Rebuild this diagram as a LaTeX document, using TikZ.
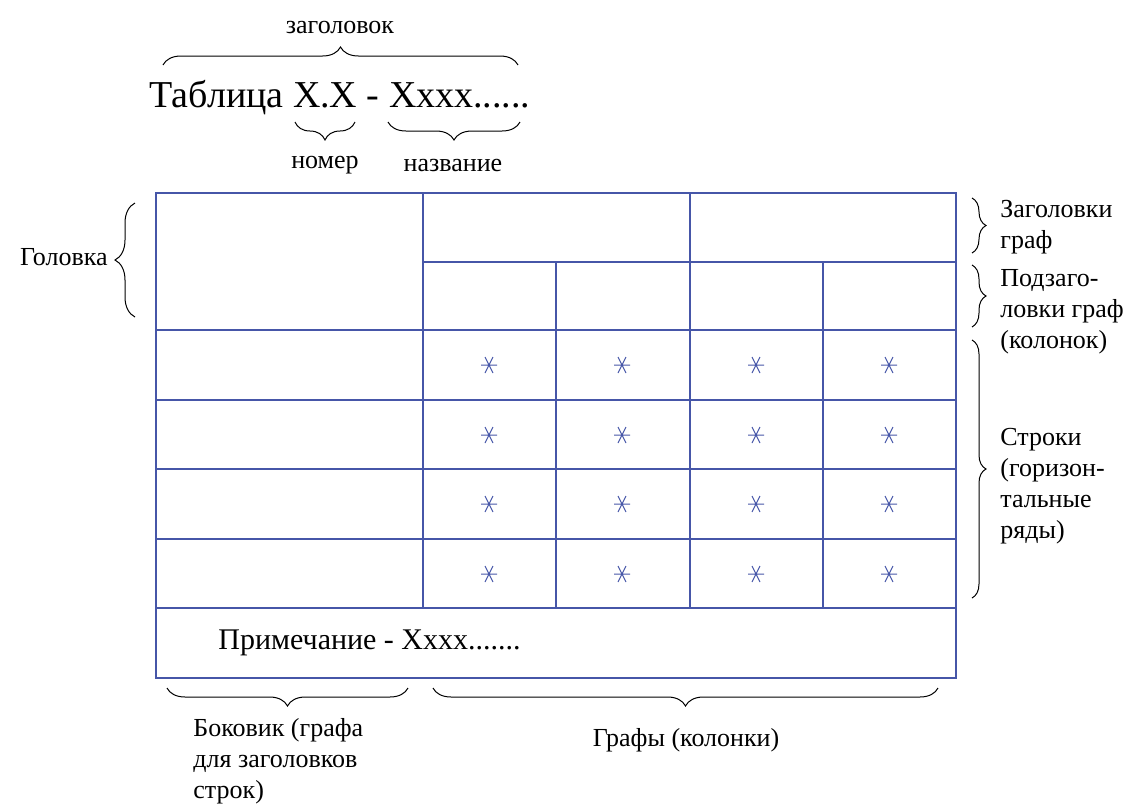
\documentclass[tikz,border=0pt]{standalone}
\usepackage{fontspec}
\setmainfont{Liberation Serif}[Ligatures=TeX]
\newfontfamily\tms{Liberation Serif}
\usetikzlibrary{decorations.pathreplacing}
\definecolor{tblblue}{RGB}{70,86,168}

\begin{document}
\begin{tikzpicture}[x=0.5pt,y=-0.5pt,
  setka/.style={draw=tblblue, line width=0.65pt},
  zvezdochka/.style={draw=tblblue, line width=0.5pt},
  skobka/.style={decorate, decoration={brace, amplitude=#1}, line width=0.5pt},
  skobka/.default=9pt,
  nadp/.style={font=\tms\fontsize{13}{15.5}\selectfont, inner sep=0pt, align=left}]
  \path (0,0) rectangle (1132,804);

  % nazvanie tablicy
  \node[nadp] (zagolovok) at (340,27) {заголовок};
  \draw[skobka] (163,65) -- (518,65);
  \node[font=\tms\fontsize{19}{22}\selectfont, anchor=base, inner sep=0pt] (tablica) at (340,107) {Таблица X.X - Xxxx......};
  \draw[skobka] (355,122) -- (295,122);
  \draw[skobka] (520,122) -- (388,122);
  \node[nadp] (nomer) at (325,165) {номер};
  \node[nadp] (nazvanie) at (453,165) {название};

  % setka
  \draw[setka] (156,193) rectangle (956,678);
  \draw[setka] (423,262) -- (956,262);
  \foreach \y in {330,400,469,539,608}
    \draw[setka] (156,\y) -- (956,\y);
  \foreach \x in {423,690}
    \draw[setka] (\x,193) -- (\x,608);
  \foreach \x in {556,823}
    \draw[setka] (\x,262) -- (\x,608);

  \foreach \x in {489,622,756,889}
    \foreach \y in {365,435,504,574}
      \draw[zvezdochka] (\x-8,\y) -- (\x+8,\y) (\x-4,\y-8) -- (\x+4,\y+8) (\x+4,\y-8) -- (\x-4,\y+8);

  \node[font=\tms\fontsize{15}{18}\selectfont, anchor=west, inner sep=0pt] (primechanie) at (218,643) {Примечание - Xxxx.......};

  % sleva
  \draw[skobka=10pt] (135,317) -- (135,203);
  \node[nadp, anchor=east] (golovka) at (108,257) {Головка};

  % sprava
  \draw[skobka=7pt] (972,198) -- (972,253);
  \draw[skobka=7pt] (972,265) -- (972,327);
  \draw[skobka=7pt] (972,340) -- (972,598);
  \node[nadp, anchor=west] (zaggraf) at (1000,227) {Заголовки\\граф};
  \node[nadp, anchor=west] (podzag) at (1000,312) {Подзаго-\\ловки граф\\(колонок)};
  \node[nadp, anchor=west] (stroki) at (1000,486) {Строки\\(горизон-\\тальные\\ряды)};

  % snizu
  \draw[skobka] (408,688) -- (167,688);
  \draw[skobka] (938,688) -- (433,688);
  \node[nadp, anchor=west] (bokovik) at (193,761) {Боковик (графа\\для заголовков\\строк)};
  \node[nadp] (grafy) at (686,740) {Графы (колонки)};
\end{tikzpicture}
\end{document}
